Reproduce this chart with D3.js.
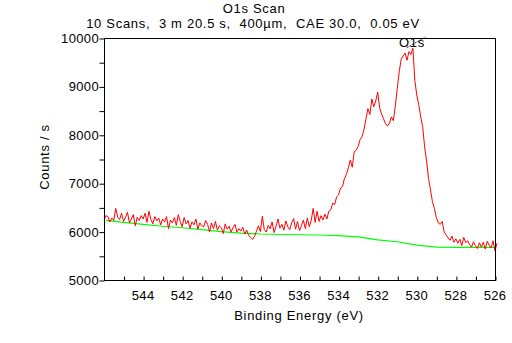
<!DOCTYPE html>
<html>
<head>
<meta charset="utf-8">
<script src="https://cdn.jsdelivr.net/npm/d3@7"></script>
<style>
  body { margin: 0; background: #fff; }
  text { font-family: Arial, "Liberation Sans", sans-serif; font-size: 13px; fill: #000; letter-spacing: 0.7px; }
  text.num { letter-spacing: 0.35px; }
</style>
</head>
<body>
<div id="graphic"></div>
<script>
// spectrum: 546.0 eV down to 526.0 eV, 0.1 eV step
const startEnergy = 546.0;
const stepEnergy = 0.1;
const counts = [
  6240,
  6330, 6310, 6200, 6280, 6230, 6480, 6300, 6250, 6380, 6210,
  6290, 6400, 6180, 6260, 6350, 6120, 6300, 6230, 6330, 6260,
  6380, 6190, 6420, 6250, 6160, 6310, 6220, 6280, 6140, 6260,
  6200, 6310, 6060, 6240, 6180, 6290, 6130, 6350, 6210, 6100,
  6290, 6160, 6230, 6070, 6200, 6140, 6260, 6050, 6180, 6120,
  6100, 6230, 6150, 5990, 6180, 6060, 6210, 6030, 6120, 6080,
  5960, 6160, 6050, 6110, 5990, 6080, 6150, 5990, 6060, 6010,
  6090, 5950, 6030, 5920, 5880, 5840, 5900, 6010, 6120, 6000,
  6320, 6040, 5990, 6130, 6060, 6200, 5980, 6110, 6260, 6070,
  6150, 6030, 6220, 6100, 6040, 6180, 6270, 6050, 6210, 6020,
  6120, 6240, 6060, 6280, 6100, 6230, 6480, 6190, 6420, 6210,
  6330, 6240, 6360, 6260, 6420, 6450, 6590, 6560, 6720, 6760,
  6900, 6930, 7100, 7180, 7320, 7480, 7330, 7650, 7680, 7760,
  7900, 7960, 8110, 8330, 8540, 8420, 8740, 8580, 8700, 8880,
  8560, 8430, 8330, 8230, 8180, 8240, 8370, 8290, 8590, 8960,
  9300, 9560, 9630, 9690, 9540, 9720, 9660, 9790, 9120, 8820,
  8620, 8370, 8170, 7750, 7460, 7100, 6860, 6620, 6480, 6290,
  6180, 6150, 6210, 5990, 5930, 5870, 5820, 5910, 5780, 5850,
  5760, 5840, 5710, 5880, 5770, 5810, 5730, 5680, 5790, 5710,
  5650, 5770, 5680, 5780, 5640, 5800, 5720, 5660, 5810, 5600,
  5760
];

// background, 1 eV step
const bgEnergy = [545.9, 545, 544, 543, 542, 541, 540, 539, 538, 537, 536,
                  535, 534, 533, 532, 531, 530, 529, 528, 527, 526];
const bgCounts = [6230, 6190, 6150, 6110, 6080, 6040, 6000, 5970, 5950, 5940, 5935,
                  5930, 5915, 5890, 5830, 5790, 5720, 5680, 5675, 5675, 5675];

const xTicks = [544, 542, 540, 538, 536, 534, 532, 530, 528, 526];
const yTicks = [5000, 6000, 7000, 8000, 9000, 10000];

const W = 512, H = 343;
const margin = {top: 38, right: 17, bottom: 63, left: 104};
const width = W - margin.left - margin.right;
const height = H - margin.top - margin.bottom;

const svg = d3.select("#graphic")
    .append("svg")
    .attr("width", W)
    .attr("height", H);

const g = svg.append("g")
    .attr("transform", `translate(${margin.left}, ${margin.top})`);

const x = d3.scaleLinear().domain([546, 526]).range([0, width]);
const y = d3.scaleLinear().domain([5000, 10000]).range([height, 0]);

const spectrum = counts.map((c, i) => ({e: startEnergy - i * stepEnergy, c: c}));
const background = bgEnergy.map((e, i) => ({e: e, c: bgCounts[i]}));

const line = d3.line().x(d => x(d.e)).y(d => y(d.c));

g.append("path")
    .datum(background)
    .attr("fill", "none")
    .attr("stroke", "#00ff00")
    .attr("stroke-width", 1.2)
    .attr("d", line);

g.append("path")
    .datum(spectrum)
    .attr("fill", "none")
    .attr("stroke", "#ff0000")
    .attr("stroke-width", 1)
    .attr("d", line);

// frame
g.append("rect")
    .attr("x", 0.5).attr("y", 0.5)
    .attr("width", width).attr("height", height)
    .attr("fill", "none")
    .attr("stroke", "#000");

// bottom axis: ticks inside every 1 eV, labels on even values
const xAxis = g.append("g").attr("transform", `translate(0.5, ${height + 0.5})`)
    .call(d3.axisBottom(x).tickValues(d3.range(545, 525.5, -1)).tickSize(-4).tickFormat(""));
xAxis.select(".domain").remove();
xAxis.selectAll("line").attr("stroke", "#000");
g.selectAll(".xlab")
    .data(xTicks)
    .join("text")
    .attr("class", "xlab num")
    .attr("x", d => x(d))
    .attr("y", height + 20)
    .attr("text-anchor", "middle")
    .text(d => d);

// left axis: ticks outside every 500
const yAxis = g.append("g").attr("transform", "translate(0.5, 0.5)")
    .call(d3.axisLeft(y).tickValues(d3.range(5000, 10001, 500)).tickSize(5).tickFormat(""));
yAxis.select(".domain").remove();
yAxis.selectAll("line").attr("stroke", "#000");
g.selectAll(".ylab")
    .data(yTicks)
    .join("text")
    .attr("class", "ylab num")
    .attr("x", -5)
    .attr("y", d => y(d) + 5)
    .attr("text-anchor", "end")
    .text(d => d);

// titles
svg.append("text").attr("x", 254).attr("y", 13).attr("text-anchor", "middle").text("O1s Scan");
svg.append("text").attr("x", 253).attr("y", 28).attr("text-anchor", "middle")
    .style("white-space", "pre")
    .text("10 Scans,  3 m 20.5 s,  400µm,  CAE 30.0,  0.05 eV");
svg.append("text").attr("x", 299).attr("y", 320).attr("text-anchor", "middle").text("Binding Energy (eV)");
svg.append("text")
    .attr("transform", "translate(49, 157) rotate(-90)")
    .attr("text-anchor", "middle")
    .text("Counts / s");

// peak marker
const peakE = 530.25, peakC = 9780;
g.append("line")
    .attr("x1", x(peakE) - 5).attr("y1", y(peakC) - 1)
    .attr("x2", x(peakE) + 14).attr("y2", -1)
    .attr("stroke", "#000")
    .attr("stroke-width", 0.8)
    .attr("stroke-dasharray", "2,1");
g.append("text")
    .attr("x", x(peakE))
    .attr("y", y(peakC) - 2)
    .attr("text-anchor", "middle")
    .text("O1s");
</script>
</body>
</html>
